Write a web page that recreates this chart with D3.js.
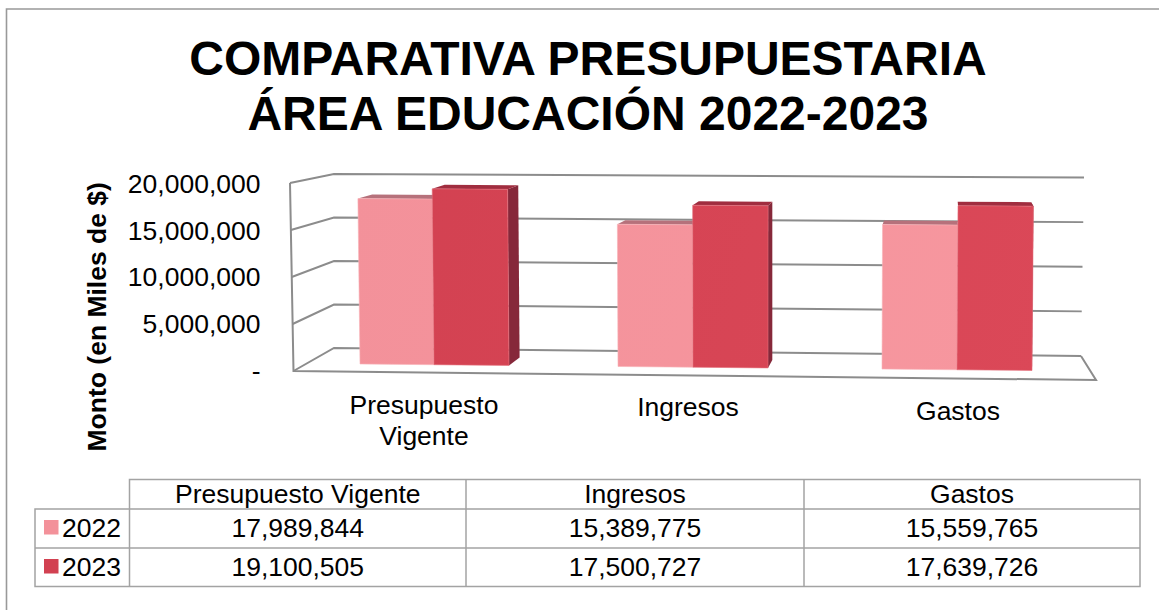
<!DOCTYPE html>
<html><head><meta charset="utf-8">
<script src="https://cdn.jsdelivr.net/npm/d3@7/dist/d3.min.js"></script>
<style>
html,body{margin:0;padding:0;background:#fff}
svg{display:block}
text{font-family:"Liberation Sans",Arial,sans-serif;fill:#000}
</style></head><body>
<script>
const titleLines = ["COMPARATIVA PRESUPUESTARIA", "ÁREA EDUCACIÓN 2022-2023"];
const yAxisTitle = "Monto (en Miles de $)";
const categories = ["Presupuesto Vigente", "Ingresos", "Gastos"];
const axisCategoryLines = [["Presupuesto", "Vigente"], ["Ingresos"], ["Gastos"]];
const seriesNames = ["2022", "2023"];
const values2022 = [17989844, 15389775, 15559765];
const values2023 = [19100505, 17500727, 17639726];
const yTicks = [0, 5000000, 10000000, 15000000, 20000000];

const W = 1159, H = 610;
const svg = d3.select("body").append("svg").attr("width", W).attr("height", H);
const defs = svg.append("defs");
function grad(id, a, b) {
  const g = defs.append("linearGradient").attr("id", id)
    .attr("gradientUnits", "userSpaceOnUse")
    .attr("x1", 350).attr("y1", 190).attr("x2", 1040).attr("y2", 370);
  g.append("stop").attr("offset", 0).attr("stop-color", a);
  g.append("stop").attr("offset", 1).attr("stop-color", b);
}
grad("g2022", "#f3919a", "#f7979f");
grad("g2023", "#d24151", "#db4858");

const fmt = d3.format(",");
const gray = "#8c8c8c";
const FS = 26.5;

// frame: top and left edges only
svg.append("path").attr("d", "M6.5,610 L6.5,9 L1159,9")
  .attr("fill", "none").attr("stroke", "#999").attr("stroke-width", 1.6);

// title
svg.selectAll("text.title").data(titleLines).join("text").attr("class", "title")
  .attr("x", 588).attr("y", (d, i) => 74.5 + i * 55)
  .attr("text-anchor", "middle").attr("font-size", 48).attr("font-weight", "bold")
  .text(d => d);

// 3D wall: value scales at the front, back-left and back-right corners
const yFront = d3.scaleLinear().domain([0, 20000000]).range([0, 188]);
const yBackL = d3.scaleLinear().domain([0, 20000000]).range([0, 174]);
const yBackR = d3.scaleLinear().domain([0, 20000000]).range([0, 178.5]);
const frontLeftX = d3.scaleLinear().domain([0, 20000000]).range([293.5, 290]);

const lineGen = d3.line();
const wall = svg.append("g").attr("fill", "none").attr("stroke", gray).attr("stroke-width", 2);
wall.selectAll("path.grid").data(yTicks).join("path").attr("class", "grid")
  .attr("d", t => lineGen([
    [frontLeftX(t), 371 - yFront(t)],
    [334, 348 - yBackL(t)],
    [1084 - (20000000 - t) / 20000000 * 3, 356 - yBackR(t)]
  ]));
wall.append("path").attr("d", lineGen([
  [frontLeftX(20000000), 371 - yFront(20000000)],
  [frontLeftX(0), 371],
  [1096, 380],
  [1081, 356]
]));

// y tick labels
svg.selectAll("text.ytick").data(yTicks).join("text").attr("class", "ytick")
  .attr("x", 260.5).attr("y", t => 380 - yFront(t) * 0.995)
  .attr("text-anchor", "end").attr("font-size", FS)
  .text(t => t === 0 ? "-" : fmt(t));

// y axis title
svg.append("text").attr("transform", "translate(105.5,451.5) rotate(-90)")
  .attr("font-size", FS).attr("font-weight", "bold").text(yAxisTitle);

// bars
const barH = d3.scaleLinear().domain([0, 20000000]).range([0, 184]);
const center = d3.scaleOrdinal().domain(categories).range([434, 693, 957]);
const halfWidth = 75;
const floorY = x => 364 + (x - 361) * 0.0097;
const lean = (x, h) => (x - 760) * 0.0052 * (h / 165);
const growth = x => 1 + (x - 400) * 0.00002;
const depthDx = x => (945 - x) * 0.0243;
const depthDy = -4;

function drawBar(cat, value, series, xl, xr) {
  const h = barH(value);
  const p = (x, v) => [x + lean(x, v), floorY(x) - v * growth(x)];
  const bl = p(xl, 0), br = p(xr, 0), tl = p(xl, h), tr = p(xr, h);
  const tlb = [tl[0] + depthDx(tl[0]), tl[1] + depthDy];
  const trb = [tr[0] + depthDx(tr[0]), tr[1] + depthDy];
  const closed = pts => lineGen(pts) + "Z";
  const g = svg.append("g");
  if (series === 1) {
    const brb = [br[0] + depthDx(br[0]), br[1] + depthDy * 2];
    g.append("path").attr("d", closed([tr, trb, brb, br])).attr("fill", "#86283a");
  }
  g.append("path").attr("d", closed([tl, tlb, trb, tr]))
    .attr("fill", series === 0 ? "#b6717b" : "#a02d3f");
  g.append("path").attr("d", closed([tl, tr, br, bl]))
    .attr("fill", series === 0 ? "url(#g2022)" : "url(#g2023)")
    .attr("stroke", series === 0 ? "#f8b3b9" : "#e4717c").attr("stroke-width", 0.6);
}
categories.forEach((c, i) => {
  const cx = center(c);
  drawBar(c, values2022[i], 0, cx - halfWidth - (i === 0 ? -1 : 0), cx);
  drawBar(c, values2023[i], 1, cx, cx + halfWidth);
});

// category labels
const catLabelX = d3.scaleOrdinal().domain(categories).range([424, 688, 958]);
const catLabelY = d3.scaleOrdinal().domain(categories).range([414, 416, 420]);
categories.forEach((c, i) => {
  svg.append("text").attr("text-anchor", "middle").attr("font-size", FS)
    .selectAll("tspan").data(axisCategoryLines[i]).join("tspan")
    .attr("x", catLabelX(c)).attr("y", (d, j) => catLabelY(c) + j * 31)
    .text(d => d);
});

// data table
const colX = [129.5, 466, 804, 1140];
const rowY = [479.5, 509, 548, 586.5];
const tLeft = 35;
const tbl = svg.append("g").attr("stroke", "#a3a3a3").attr("stroke-width", 1.5).attr("fill", "none");
tbl.append("path").attr("d", lineGen([[colX[0], rowY[3]], [colX[0], rowY[0]], [colX[3], rowY[0]], [colX[3], rowY[3]], [tLeft, rowY[3]], [tLeft, rowY[1]], [colX[3], rowY[1]]]));
tbl.append("path").attr("d", lineGen([[tLeft, rowY[2]], [colX[3], rowY[2]]]));
[1, 2].forEach(i => tbl.append("path").attr("d", lineGen([[colX[i], rowY[0]], [colX[i], rowY[3]]])));

const colCentre = i => (colX[i] + colX[i + 1]) / 2;
categories.forEach((c, i) => {
  svg.append("text").attr("x", colCentre(i)).attr("y", 503)
    .attr("text-anchor", "middle").attr("font-size", FS).text(c);
});
[values2022, values2023].forEach((vals, r) => {
  const y = [537, 576][r];
  svg.append("rect").attr("x", 44).attr("y", y - 17).attr("width", 14.5).attr("height", 14.5)
    .attr("fill", r === 0 ? "#f3919a" : "#d24151");
  svg.append("text").attr("x", 62).attr("y", y).attr("font-size", FS).text(seriesNames[r]);
  vals.forEach((v, i) => {
    svg.append("text").attr("x", colCentre(i)).attr("y", y)
      .attr("text-anchor", "middle").attr("font-size", FS).text(fmt(v));
  });
});
</script>
</body></html>
